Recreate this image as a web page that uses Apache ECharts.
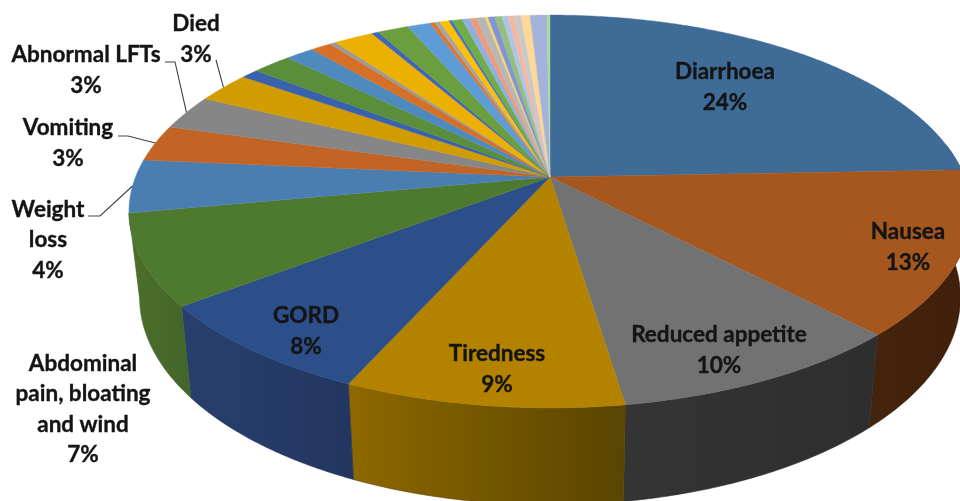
<!DOCTYPE html>
<html>
<head>
<meta charset="utf-8">
<style>html,body{margin:0;padding:0;background:#fff;overflow:hidden}#chart{width:960px;height:501px}</style>
<script src="https://cdn.jsdelivr.net/npm/echarts@6/dist/echarts.min.js"></script>
</head>
<body>
<div id="chart"></div>
<script>
// Share of reported adverse events, in percent, clockwise from twelve o'clock.
const categories = [
  'Diarrhoea', 'Nausea', 'Reduced appetite', 'Tiredness', 'GORD',
  'Abdominal pain, bloating and wind', 'Weight loss', 'Vomiting', 'Abnormal LFTs', 'Died',
  '', '', '', '', '', '', '', '', '', '', '', '', '', '', '', '', '', '', '', '', '', '', '', '', '', ''
];
const values = [
  24.40, 13.49, 9.71, 9.10, 7.90,
  7.47, 4.37, 3.01, 2.85, 2.53,
  0.79, 1.80, 1.30, 0.95, 0.27, 1.81, 0.31, 1.41, 1.06, 0.22, 0.24, 0.41, 0.15, 0.46,
  0.35, 0.29, 0.41, 0.13, 0.31, 0.33, 0.27, 0.27, 0.32, 0.41, 0.76, 0.14
];
const topColors = [
  '#3f6c96', '#a6571e', '#727272', '#b38300', '#2c4f8a',
  '#4e7a2f', '#4a7eb0', '#c16426', '#868686', '#d19c00',
  '#3a62ac', '#5a8e3a', '#4f8abf', '#d57029', '#9a9a9a', '#ebb000', '#3f66b5', '#6a9e3f',
  '#5e9cd8', '#e0762e', '#a5a5a5', '#ffc000', '#4472c4', '#70ad47',
  '#8fb0de', '#ef9a78', '#b7b7b7', '#ffd468', '#7f96d6', '#95be7c',
  '#abc5e8', '#f4b8a2', '#c9c9c9', '#ffd796', '#a3b3da', '#b5d5a2'
];
// Rim shading of the slices that face the viewer, left to right in screen order.
const wallColors = {
  0: ['#2f5070', '#2f5070'],
  1: ['#45240d', '#3f1f0b'],
  2: ['#343434', '#2e2e2e'],
  3: ['#8f6800', '#584500'],
  4: ['#283f6e', '#223660'],
  5: ['#4c7029', '#44642a']
};

// Where each label sits, and the elbow of its leader line.
const labelLayout = {
  'Diarrhoea': { x: 725, y: 87, lines: ['Diarrhoea'] },
  'Nausea': { x: 908, y: 247, lines: ['Nausea'] },
  'Reduced appetite': { x: 719, y: 350, lines: ['Reduced appetite'] },
  'Tiredness': { x: 497, y: 369, lines: ['Tiredness'] },
  'GORD': { x: 306, y: 331, lines: ['GORD'] },
  'Abdominal pain, bloating and wind': { x: 83, y: 409, lines: ['Abdominal', 'pain, bloating', 'and wind'] },
  'Weight loss': { x: 48, y: 240, lines: ['Weight', 'loss'], leader: [[88, 216], [100, 216]] },
  'Vomiting': { x: 68, y: 143, lines: ['Vomiting'], leader: [[118, 136], [128, 136]] },
  'Abnormal LFTs': { x: 86, y: 70, lines: ['Abnormal LFTs'], leader: [[165, 62], [175, 62]] },
  'Died': { x: 196, y: 39, lines: ['Died'], leader: [[216, 60]] }
};

// Perspective view of a circular disc: the far side is foreshortened, so the
// apex sits above the middle of the ellipse.
const persp = 0.1756;
const topPlane = { cx: 550, cy: 177, a: 414.5, b: 190.4 };
const basePlane = { cx: 550, cy: 261, a: 404, b: 201 };
const wallFrom = 80, wallTo = 260;

const total = values.reduce((s, v) => s + v, 0);
const angles = [0];
values.forEach(v => angles.push(angles[angles.length - 1] + v / total * 360));

function project(plane, deg) {
  const t = deg * Math.PI / 180, u = Math.sin(t), v = Math.cos(t), w = 1 + persp * v;
  return [plane.cx + plane.a * u / w, plane.cy - plane.b * v / w];
}
function arc(plane, from, to) {
  const n = Math.max(2, Math.ceil(Math.abs(to - from) / 0.5));
  const pts = [];
  for (let i = 0; i <= n; i++) pts.push(project(plane, from + (to - from) * i / n));
  return pts;
}

const rows = values.map((v, i) => [i, v]);

function renderWall(params) {
  const i = params.dataIndex;
  const from = Math.max(angles[i], wallFrom), to = Math.min(angles[i + 1], wallTo);
  const shade = wallColors[i];
  if (!shade || to <= from) return null;
  const points = arc(topPlane, from, to).concat(arc(basePlane, to, from));
  return {
    type: 'polygon',
    shape: { points },
    style: {
      fill: new echarts.graphic.LinearGradient(0, 0, 1, 0, [
        { offset: 0, color: shade[0] }, { offset: 1, color: shade[1] }
      ]),
      stroke: shade[1], lineWidth: 0.6
    }
  };
}

function renderFace(params) {
  const i = params.dataIndex;
  const points = [[topPlane.cx, topPlane.cy]].concat(arc(topPlane, angles[i], angles[i + 1]));
  return {
    type: 'polygon',
    shape: { points },
    style: { fill: topColors[i], stroke: topColors[i], lineWidth: 0.4 }
  };
}

function renderLabel(params, api) {
  const i = params.dataIndex;
  const layout = labelLayout[categories[i]];
  if (!layout) return null;
  const children = [{
    type: 'text',
    style: {
      x: layout.x, y: layout.y,
      text: layout.lines.concat(Math.round(api.value(1)) + '%').join('\n'),
      font: '700 22.5px Lato',
      lineHeight: 30.5,
      fill: '#141414',
      stroke: '#141414', lineWidth: 0.35,
      align: 'center', verticalAlign: 'middle'
    }
  }];
  if (layout.leader) {
    const mid = (angles[i] + angles[i + 1]) / 2;
    children.push({
      type: 'polyline',
      shape: { points: layout.leader.concat([project(topPlane, mid)]) },
      style: { fill: null, stroke: '#404040', lineWidth: 1.1 }
    });
  }
  return { type: 'group', children };
}

const chart = echarts.init(document.getElementById('chart'), null, { renderer: 'canvas' });
chart.setOption({
  animation: false,
  backgroundColor: '#ffffff',
  series: [
    { type: 'custom', coordinateSystem: 'none', silent: true, z: 1, data: rows, renderItem: renderWall },
    { type: 'custom', coordinateSystem: 'none', silent: true, z: 2, data: rows, renderItem: renderFace },
    { type: 'custom', coordinateSystem: 'none', silent: true, z: 3, data: rows, renderItem: renderLabel }
  ]
});
</script>
</body>
</html>
